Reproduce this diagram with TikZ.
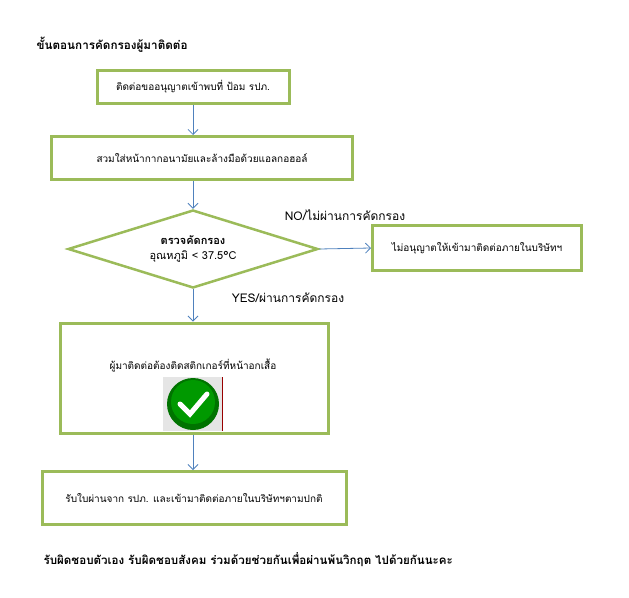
\documentclass[tikz,border=0pt]{standalone}
\usepackage{fontspec}
\setmainfont{Loma}[Script=Thai]
\usetikzlibrary{arrows.meta,
                positioning,
                shapes.geometric}
\definecolor{olive}{HTML}{9BBB59}
\definecolor{flow}{HTML}{4F81BD}
\tikzset{
        base/.style={draw=olive, line width=3pt, align=center, font=\fontsize{10}{12}\selectfont},
        proc/.style={base, rectangle},
        test/.style={base, diamond, line width=2.5pt, minimum width=250pt, minimum height=78pt, aspect=3.2, inner sep=0pt, font=\fontsize{11}{15}\selectfont},
        myarrow/.style={-{Straight Barb[length=5pt,width=10pt]}, draw=flow, line width=0.8pt},
        lbl/.style={font=\fontsize{12}{14}\selectfont},
 }
\begin{document}
\begin{tikzpicture}[x=1pt,y=-1pt]
    \useasboundingbox (0,0) rectangle (629,597);
    \node[anchor=west, font=\fontsize{11.7}{14}\selectfont\bfseries] (title) at (33,45) {ขั้นตอนการคัดกรองผู้มาติดต่อ};

    \node[proc, minimum width=192pt, minimum height=33pt] (a) at (193,87) {ติดต่อขออนุญาตเข้าพบที่ ป้อม รปภ.};
    \node[proc, minimum width=301pt, minimum height=43pt] (b) at (202,158) {สวมใส่หน้ากากอนามัยและล้างมือด้วยแอลกอฮอล์};
    \node[test] (c) at (193,249) {\textbf{ตรวจคัดกรอง}\\อุณหภูมิ < 37.5°C};
    \node[proc, minimum width=209pt, minimum height=45pt] (d) at (477,248) {ไม่อนุญาตให้เข้ามาติดต่อภายในบริษัทฯ};
    \node[proc, minimum width=268pt, minimum height=110pt] (e) at (194,378) {};
    \node[base, draw=none] (et) at (193,366) {ผู้มาติดต่อต้องติดสติกเกอร์ที่หน้าอกเสื้อ};
    \node[proc, minimum width=304pt, minimum height=53pt] (f) at (194,498) {รับใบผ่านจาก รปภ. และเข้ามาติดต่อภายในบริษัทฯตามปกติ};
    \node[anchor=west, font=\fontsize{11.6}{14}\selectfont\bfseries] (g) at (40,560) {รับผิดชอบตัวเอง รับผิดชอบสังคม ร่วมด้วยช่วยกันเพื่อผ่านพ้นวิกฤต ไปด้วยกันนะคะ};

    % check mark
    \fill[white!90!black] (163,377) rectangle (223,431);
    \draw[red!60!black, line width=1pt] (222,377) -- (222,431);
    \fill[green!45!black] (193,404) circle (26);
    \fill[green!60!black] (193,402) circle (22);
    \draw[white, line width=5pt, line cap=round] (180,404) -- (190,414) -- (207,394);

    \draw[myarrow] (a.south) -- (a.south |- b.north);
    \draw[myarrow] (a.south |- b.south) -- (c.north);
    \draw[myarrow] (c.east) -- (d.west);
    \draw[myarrow] (c.south) -- (c.south |- e.north);
    \draw[myarrow] (c.south |- e.south) -- (c.south |- f.north);

    \node[lbl] (no) at (345,215) {NO/ไม่ผ่านการคัดกรอง};
    \node[lbl] (yes) at (288,298) {YES/ผ่านการคัดกรอง};
\end{tikzpicture}
\end{document}
